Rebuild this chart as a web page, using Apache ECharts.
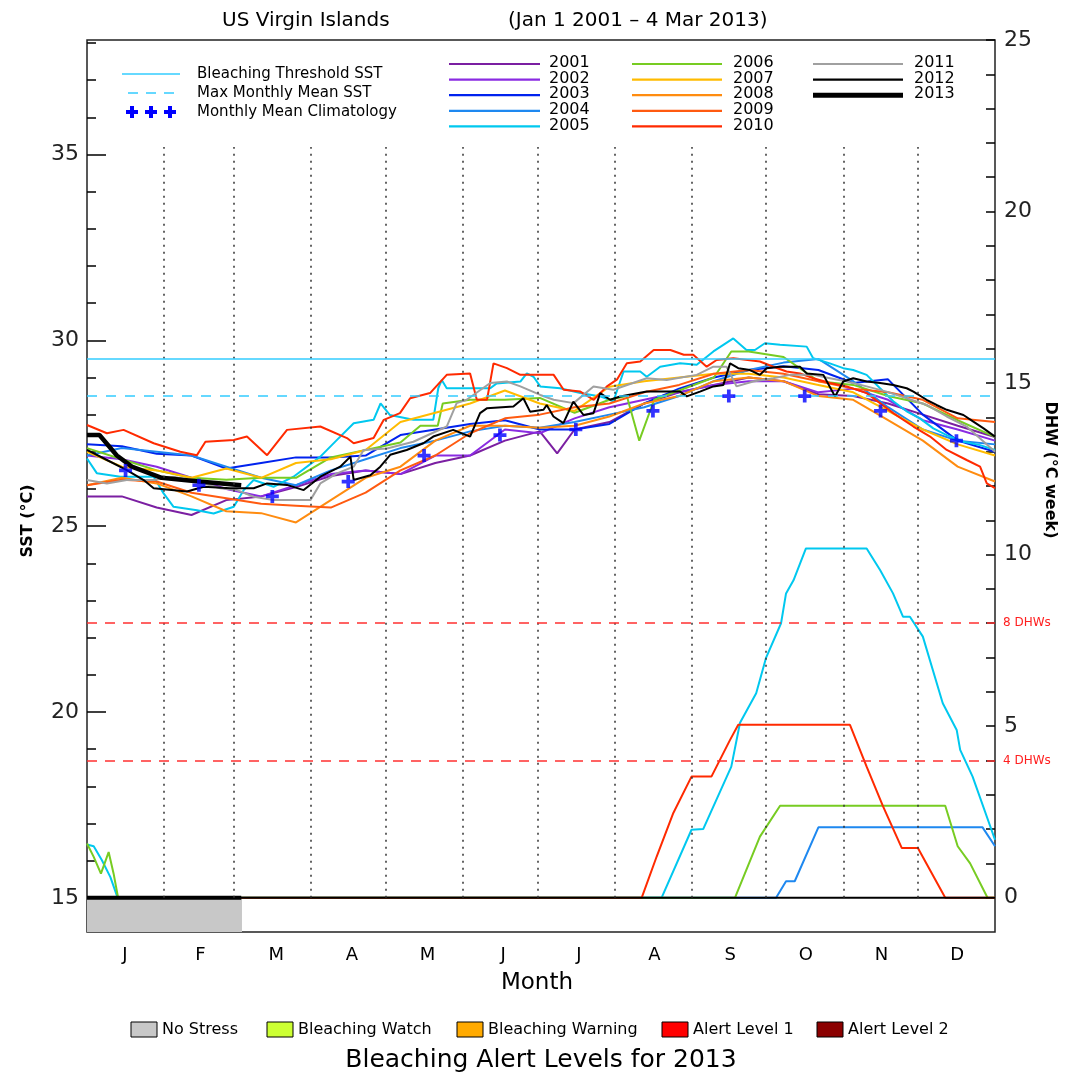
<!DOCTYPE html>
<html><head><meta charset="utf-8">
<script src="https://cdn.jsdelivr.net/npm/echarts@6/dist/echarts.min.js"></script>
<style>html,body{margin:0;padding:0;background:#fff}#c{width:1072px;height:1076px}</style>
</head><body><div id="c"></div>
<script>
// ---------- data ----------
const monthLabels = ['J','F','M','A','M','J','J','A','S','O','N','D'];
const monthLabelDays = [15.21,45.63,76.04,106.46,136.88,167.29,197.71,228.13,258.54,288.96,319.38,349.79];
const monthMidDays = [15.5,45,74.5,105,135.5,166,196.5,227.5,258,288.5,319,349.5];
const monthStartDays = [31,59,90,120,151,181,212,243,273,304,334];
const sstTickValues = [15,16,17,18,19,20,21,22,23,24,25,26,27,28,29,30,31,32,33,34,35,36,37,38];
const sstMajorTicks = [15,20,25,30,35];
const sstLabelValues = [15,20,25,30,35];
const dhwTickValues = [0,1,2,3,4,5,6,7,8,9,10,11,12,13,14,15,16,17,18,19,20,21,22,23,24,25];
const dhwLabelValues = [0,5,10,15,20,25];
const climatology = [26.5,26.1,25.8,26.2,26.9,27.45,27.6,28.1,28.5,28.5,28.1,27.3];
const bleachingThreshold = 29.5;
const maxMonthlyMean = 28.5;
const dhwGuides = [8,4];

const days = [0,14,28,42,56,70,84,98,112,126,140,154,168,182,196,210,224,238,252,266,280,294,308,322,336,350,365];
const days2001 = [0,14,28,42,56,70,84,98,112,126,140,154,168,182,189,196,210,224,238,252,266,280,294,308,322,336,350,365];
const sst2001 = [25.8,25.8,25.5,25.3,25.7,25.8,26.05,26.35,26.5,26.4,26.7,26.9,27.3,27.55,26.96,27.6,27.8,28.3,28.6,28.8,29.0,28.9,28.55,28.5,28.3,28.0,27.7,27.4];
const sst2002 = [26.9,26.8,26.6,26.3,26.0,25.8,26.1,26.4,26.5,26.4,26.9,26.9,27.6,27.5,27.9,28.2,28.4,28.6,28.8,28.9,28.9,28.6,28.7,28.4,27.85,27.6,27.3];
const sst2003 = [27.2,27.15,26.95,26.9,26.55,26.7,26.85,26.85,26.9,27.45,27.6,27.75,27.85,27.6,27.6,27.75,28.3,28.7,29.0,29.2,29.3,29.2,28.85,28.95,28.0,27.3,27.0];
const sst2004 = [26.9,27.1,27.0,26.9,26.6,26.3,26.1,26.5,26.8,27.1,27.3,27.55,27.7,27.65,27.8,28.0,28.2,28.5,28.9,29.2,29.4,29.5,28.9,28.2,27.6,27.3,27.2];
const days2005 = [0,4,13.4,26.8,30.8,34.8,44.2,50.9,59,63,67,75,83,93.8,100.5,107.2,115.2,118,121.8,131.2,139.2,141.2,142.6,144.6,162.1,164.7,174.2,176.8,179.5,182.2,190.2,198.3,206.3,211.6,215.7,222.4,225,230.4,238.4,245.1,251.8,259.8,265.1,268.5,272.5,278.6,289.3,291.9,298.6,304,308,313.4,318.8,324.1,329.5,334.8,340.2,345.6,352.3,359,365];
const sst2005 = [26.82,26.42,26.33,26.33,25.88,25.52,25.43,25.34,25.52,25.97,26.24,26.06,26.33,26.87,27.32,27.77,27.86,28.3,27.99,27.86,27.86,28.71,28.93,28.71,28.71,28.84,28.89,29.11,29.02,28.76,28.71,28.58,28.49,28.36,29.16,29.16,29.02,29.29,29.38,29.34,29.7,30.05,29.74,29.74,29.92,29.88,29.83,29.52,29.38,29.25,29.2,29.07,28.71,28.36,28.09,27.9,27.63,27.45,27.27,27.18,27.05];
const days2006 = [0,14,28,42,56,70,84,98,112,126,134,141,143,154,168,182,196,210,217,222,228,238,252,259,266,280,294,308,322,336,350,365];
const sst2006 = [27.1,26.8,26.5,26.3,26.25,26.3,26.3,26.85,27.05,27.25,27.7,27.7,28.3,28.4,28.4,28.45,28.05,28.4,28.5,27.3,28.4,28.65,29.0,29.7,29.7,29.55,28.9,28.8,28.5,28.3,27.85,27.4];
const sst2007 = [27.0,26.6,26.5,26.3,26.55,26.3,26.7,26.8,27.05,27.8,28.05,28.3,28.65,28.3,28.1,28.75,28.9,29.0,29.1,29.1,29.0,28.8,28.6,28.1,27.6,27.2,26.9];
const sst2008 = [26.1,26.3,26.15,25.8,25.4,25.35,25.1,25.7,26.3,26.6,27.3,27.7,27.7,27.65,27.7,27.95,28.3,28.5,28.9,29.0,28.9,28.5,28.4,27.85,27.3,26.6,26.2];
const sst2009 = [26.1,26.25,26.2,25.9,25.75,25.6,25.55,25.5,25.9,26.5,26.9,27.5,27.9,28.0,28.2,28.3,28.6,28.8,29.1,29.2,29.1,28.9,28.7,28.6,28.4,27.9,27.8];
const days2010 = [0,8,14.7,26.8,37.5,44.2,47.6,59,64.3,72.4,80.4,93.8,104.5,107.2,115.2,119.3,125.8,129.9,137.9,144.6,154,156.7,160.8,163.4,168.8,174.2,187.6,191.6,198.3,203.7,209,213,217,222.4,227.8,234.5,239.9,243.7,249.1,253.1,259.8,270.5,275.9,281.2,286.6,292,298.7,305.4,313.4,318.8,324.1,332.2,338.9,345.6,353.6,359,361.7,365];
const sst2010 = [27.72,27.5,27.59,27.23,27.0,26.91,27.27,27.32,27.41,26.91,27.59,27.68,27.37,27.23,27.37,27.86,28.04,28.44,28.58,29.07,29.11,28.4,28.4,29.38,29.25,29.07,29.07,28.67,28.62,28.4,28.76,28.94,29.38,29.43,29.74,29.74,29.61,29.61,29.29,29.47,29.52,29.43,29.29,29.16,29.11,28.98,28.85,28.76,28.58,28.31,28.04,27.68,27.41,27.05,26.78,26.6,26.15,26.02];
const days2011 = [0,8,16,26.8,34.8,44.2,53.6,60.3,67,75,89.8,93.8,100.5,107.2,111.2,120.6,131.2,144.6,148.6,152.6,162.1,168.8,174.2,182.2,187.6,195.6,203.6,211.6,225,233,245.1,251.8,257.1,261.1,267.8,275.9,282.6,292,298.7,305.4,313.4,321.4,329.5,337.5,345.6,353.6,365];
const sst2011 = [26.24,26.15,26.24,26.24,26.33,26.2,26.02,25.97,25.79,25.7,25.7,26.15,26.42,26.6,27.05,27.09,27.27,27.68,28.31,28.4,28.85,28.89,28.76,28.53,28.4,28.31,28.76,28.67,28.98,28.93,29.07,29.29,29.29,28.76,28.89,28.98,29.07,29.07,28.98,28.89,28.76,28.62,28.44,28.26,27.95,27.68,27.0];
const days2012 = [0,8,16,22.8,26.8,40.2,46.9,57.6,67,72.4,80.4,87.1,93.8,101.8,105.9,107.2,113.9,117.9,121.9,128.5,135.2,139.2,147.2,154,158,160.7,171.4,175.4,178.1,183.5,184.8,187.5,191.5,195.5,199.6,203.6,206.3,210.3,214.3,225,238.4,241.1,246.4,251.8,255.8,258.5,261.8,266.5,270.5,273.2,278.6,286.6,289.3,296,300.7,304,308,313.4,318.8,324.1,329.5,332.2,337.5,341.5,345.6,352.3,356.3,360.4,365];
const sst2012 = [27.05,26.78,26.51,26.24,26.02,25.93,26.06,26.02,26.02,26.15,26.11,25.97,26.33,26.6,26.87,26.24,26.37,26.6,26.92,27.05,27.23,27.41,27.59,27.41,28.04,28.17,28.22,28.44,28.08,28.13,28.26,27.95,27.77,28.35,27.99,28.04,28.58,28.4,28.49,28.62,28.62,28.49,28.62,28.76,28.8,29.38,29.25,29.2,29.07,29.25,29.29,29.29,29.11,29.07,28.49,28.89,28.98,28.89,28.85,28.8,28.71,28.62,28.4,28.26,28.13,27.99,27.81,27.63,27.41];
const days2013 = [0,5,12,18,30,45,62];
const sst2013 = [27.45,27.45,26.9,26.6,26.3,26.2,26.1];

const dhwDays2004 = [0,277,281,284.5,294,360,365];
const dhw2004 = [0,0,0.48,0.48,2.05,2.05,1.5];
const dhwDays2005 = [0,2.7,6,9.4,12.3,231,243,247.7,259,262.5,269,273,279,281,284,289,313.4,318.8,324,328,330.8,336,344,349.6,351,356,365];
const dhw2005 = [1.55,1.5,1.09,0.6,0,0,1.98,2.0,3.82,5.1,5.96,7.0,8.0,8.87,9.25,10.18,10.18,9.55,8.87,8.19,8.19,7.61,5.67,4.89,4.31,3.53,1.69];
const dhwDays2006 = [0,2.7,5.6,8.7,10.7,12.5,260.5,270.5,278.6,345,350,355,362,365];
const dhw2006 = [1.58,1.19,0.7,1.33,0.7,0,0,1.78,2.68,2.68,1.5,1.0,0,0];
const dhwDays2010 = [0,223,229,235.7,243,251,258.5,261.8,306.7,313.4,320,327.5,334,345,365];
const dhw2010 = [0,0,1.2,2.47,3.53,3.53,4.6,5.04,5.04,3.82,2.66,1.45,1.45,0,0];
const dhwDays2012 = [0,365];
const dhw2012 = [0,0];
const dhwDays2013 = [0,62];
const dhw2013 = [0,0];
const alertNoStress = [0,62.3];

const alertLabels = ['No Stress','Bleaching Watch','Bleaching Warning','Alert Level 1','Alert Level 2'];

// ---------- styles ----------
const FONT = 'DejaVu Sans';
const years = [
  {name:'2001', color:'#7b1fa2', d:days2001, sst:sst2001},
  {name:'2002', color:'#8a2be2', d:days, sst:sst2002},
  {name:'2003', color:'#0022ee', d:days, sst:sst2003},
  {name:'2004', color:'#1e88f0', d:days, sst:sst2004},
  {name:'2005', color:'#00c8ef', d:days2005, sst:sst2005},
  {name:'2006', color:'#77cc22', d:days2006, sst:sst2006},
  {name:'2007', color:'#ffbb00', d:days, sst:sst2007},
  {name:'2008', color:'#ff8c10', d:days, sst:sst2008},
  {name:'2009', color:'#ff5a10', d:days, sst:sst2009},
  {name:'2010', color:'#ff2a00', d:days2010, sst:sst2010},
  {name:'2011', color:'#a0a0a0', d:days2011, sst:sst2011},
  {name:'2012', color:'#000000', d:days2012, sst:sst2012}
];
const alertColors = ['#c8c8c8','#ccff33','#ffaa00','#ff0000','#8b0000'];
const zip = (xs, ys) => xs.map((x, i) => [x, ys[i]]);

const series = [];
years.forEach((y, i) => {
  const s = {
    type:'line', name:y.name, xAxisIndex:0, yAxisIndex:0, symbol:'none',
    data: zip(y.d, y.sst), lineStyle:{color:y.color, width:2}, z:2, silent:true
  };
  if (i === 0) {
    s.markLine = {
      silent:true, symbol:'none', label:{show:false},
      lineStyle:{color:'#333', type:[2,5], width:1.5},
      data: monthStartDays.map(d => [{coord:[d,15]},{coord:[d,35.2]}])
    };
  }
  series.push(s);
});
series.push({type:'line', name:'2013', yAxisIndex:0, symbol:'none', data:zip(days2013, sst2013),
  lineStyle:{color:'#000', width:4.5}, z:3, silent:true});

const dhwSets = [
  {days:dhwDays2004, v:dhw2004, color:'#1e88f0'},
  {days:dhwDays2005, v:dhw2005, color:'#00c8ef'},
  {days:dhwDays2006, v:dhw2006, color:'#77cc22'},
  {days:dhwDays2010, v:dhw2010, color:'#ff2a00'}
];
dhwSets.forEach(d => series.push({type:'line', yAxisIndex:1, symbol:'none', data:zip(d.days, d.v),
  lineStyle:{color:d.color, width:2}, z:2, silent:true}));
series.push({type:'line', yAxisIndex:1, symbol:'none', data:zip(dhwDays2012, dhw2012),
  lineStyle:{color:'#000', width:2}, z:4, silent:true,
  markLine:{silent:true, symbol:'none',
    lineStyle:{color:'#ff3030', type:[10,8], width:1.5},
    label:{show:true, position:'end', color:'#ff2020', fontSize:12, fontFamily:FONT, distance:8,
      formatter: p => p.value + ' DHWs'},
    data: dhwGuides.map(v => ({yAxis:v}))}});
series.push({type:'line', yAxisIndex:1, symbol:'none', data:zip(dhwDays2013, dhw2013),
  lineStyle:{color:'#000', width:4}, z:4, silent:true,
  markArea:{silent:true, itemStyle:{color:'#c8c8c8'},
    data:[[{coord:[alertNoStress[0], -1]},{coord:[alertNoStress[1], 0]}]]}});
series.push({type:'scatter', yAxisIndex:0, data:zip(monthMidDays, climatology),
  symbol:'path://M5,0H9V5H14V9H9V14H5V9H0V5H5Z', symbolSize:13,
  itemStyle:{color:'#0000ff'}, z:6, silent:true,
  markLine:{silent:true, symbol:'none', label:{show:false},
    data:[
      {yAxis:bleachingThreshold, lineStyle:{color:'#33ccff', type:'solid', width:1.5}},
      {yAxis:maxMonthlyMean, lineStyle:{color:'#33ccff', type:[10,9], width:1.5}}
    ]}});

// ---------- legend graphics ----------
const g = [];
const txt = (x, y, text, size, opt) => Object.assign({type:'text', x, y,
  style:{text, fontSize:size, fontFamily:FONT, fill:'#000', textAlign:'left', textVerticalAlign:'middle'}}, opt||{});
g.push(txt(222, 21, 'US Virgin Islands', 20));
g.push(txt(508, 21, '(Jan 1 2001 \u2013 4 Mar 2013)', 20));
g.push({type:'line', shape:{x1:122,y1:74,x2:180,y2:74}, style:{stroke:'#33ccff', lineWidth:1.5}});
g.push(txt(197, 74, 'Bleaching Threshold SST', 15));
g.push({type:'line', shape:{x1:128,y1:93,x2:182,y2:93}, style:{stroke:'#33ccff', lineWidth:1.5, lineDash:[10,8]}});
g.push(txt(197, 93, 'Max Monthly Mean SST', 15));
[132,151,170].forEach(cx => {
  g.push({type:'rect', shape:{x:cx-6,y:110,width:12,height:4}, style:{fill:'#0000ff'}});
  g.push({type:'rect', shape:{x:cx-2,y:106,width:4,height:12}, style:{fill:'#0000ff'}});
});
g.push(txt(197, 112, 'Monthly Mean Climatology', 15));
const cols = [[449,540,549],[632,722,733],[813,903,914]];
const allYears = years.concat([{name:'2013', color:'#000'}]);
allYears.forEach((y, i) => {
  const c = cols[Math.floor(i/5)], r = i % 5, yy = 64 + r*15.6;
  g.push({type:'line', shape:{x1:c[0],y1:yy,x2:c[1],y2:yy}, style:{stroke:y.color, lineWidth: y.name==='2013'?5:2.2}});
  g.push(txt(c[2], yy-1, y.name, 16));
});
const ctext = (x, y, text, size, extra) => ({type:'text', x, y, rotation:(extra&&extra.rot)||0,
  style:{text, fontSize:size, fontWeight:(extra&&extra.bold)?'bold':'normal', fontFamily:FONT, fill:'#000', textAlign:'center', textVerticalAlign:'middle'}});
g.push(ctext(28, 521, 'SST (\u00b0C)', 16, {rot:Math.PI/2, bold:true}));
g.push(ctext(1050, 470, 'DHW (\u00b0C week)', 16, {rot:-Math.PI/2, bold:true}));
g.push(ctext(537, 983, 'Month', 23));
const boxX = [131,267,457,662,817];
alertLabels.forEach((l, i) => {
  g.push({type:'rect', shape:{x:boxX[i], y:1022, width:26, height:15}, style:{fill:alertColors[i], stroke:'#000', lineWidth:1}});
  g.push(txt(boxX[i]+31, 1030, l, 16));
});
g.push(ctext(541, 1060, 'Bleaching Alert Levels for 2013', 25));

// ---------- option ----------
const option = {
  animation:false,
  backgroundColor:'#fff',
  grid:{left:87, right:77, top:40, bottom:144, show:true, borderColor:'#222', borderWidth:1.5, backgroundColor:'transparent', containLabel:false},
  xAxis:[{
    type:'value', min:0, max:365,
    axisLine:{show:false}, splitLine:{show:false},
    axisTick:{show:false},
    axisLabel:{customValues:monthLabelDays, margin:14, fontSize:18, fontFamily:FONT, color:'#000',
      formatter: v => { let bi=0, bd=1e9; monthLabelDays.forEach((m,i)=>{const d=Math.abs(m-v); if(d<bd){bd=d;bi=i;}}); return monthLabels[bi]; }}
  }],
  yAxis:[
    {type:'value', min:14.08, max:38.08, position:'left',
      axisLine:{show:false}, splitLine:{show:false},
      axisTick:{show:true, inside:true, length:9, customValues:sstTickValues, lineStyle:{color:'#000', width:1.5}},
      axisLabel:{customValues:sstLabelValues, margin:8, fontSize:22, fontFamily:FONT, color:'#222'}},
    {type:'value', min:-1, max:25, position:'right',
      axisLine:{show:false}, splitLine:{show:false},
      axisTick:{show:true, inside:true, length:9, customValues:dhwTickValues, lineStyle:{color:'#000', width:1.5}},
      axisLabel:{customValues:dhwLabelValues, margin:9, fontSize:22, fontFamily:FONT, color:'#222'}},
    {type:'value', min:14.08, max:38.08, position:'left',
      axisLine:{show:false}, splitLine:{show:false},
      axisTick:{show:true, inside:true, length:19, customValues:sstMajorTicks, lineStyle:{color:'#000', width:1.5}},
      axisLabel:{show:false}}
  ],
  series,
  graphic:g
};
const chart = echarts.init(document.getElementById('c'), null, {renderer:'canvas'});
chart.setOption(option);
</script></body></html>
